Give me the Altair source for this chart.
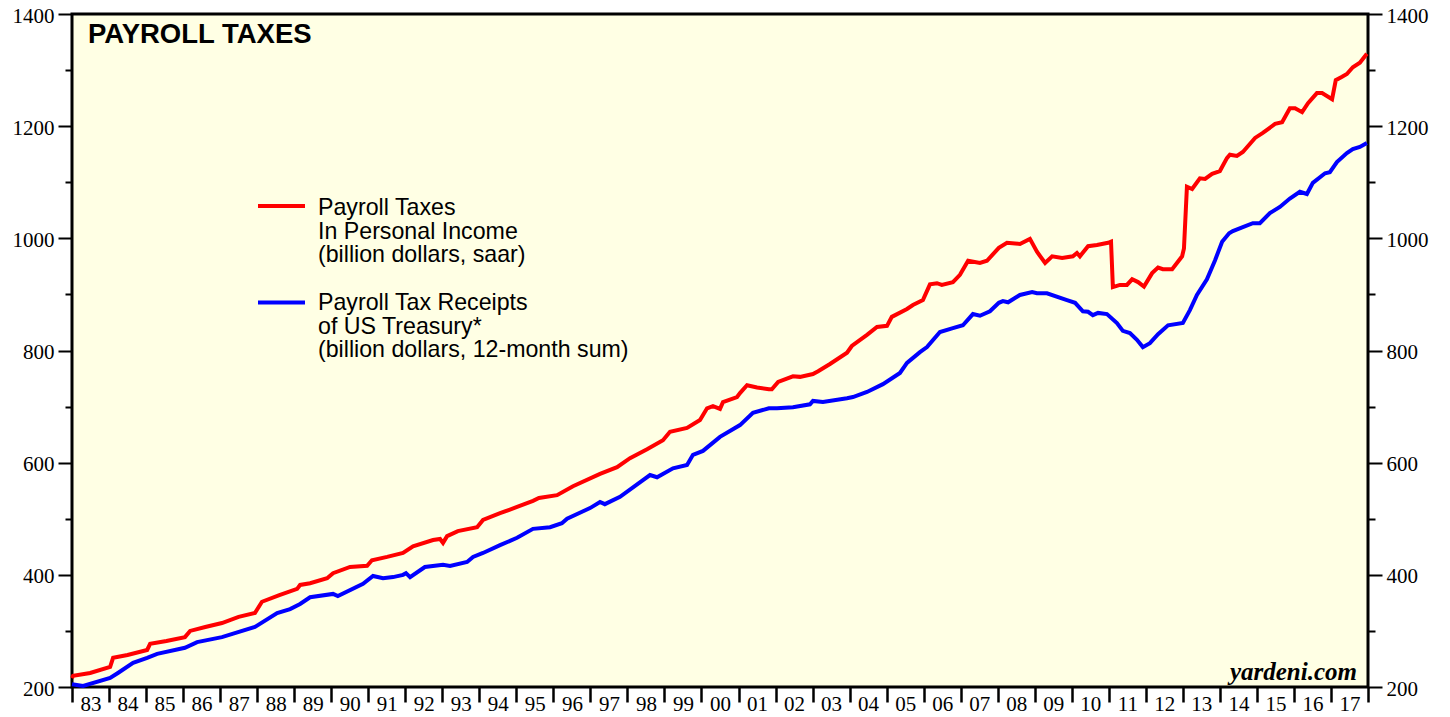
import altair as alt
import pandas as pd

# ---------------- data ----------------
RED_YEARS = [1983.00, 1983.03, 1983.49, 1984.03, 1984.11, 1984.50, 1985.03, 1985.11, 1985.55,
             1986.05, 1986.19, 1986.60, 1987.05, 1987.50, 1987.94, 1988.13, 1988.60, 1989.08,
             1989.16, 1989.43, 1989.89, 1990.05, 1990.51, 1990.97, 1991.10, 1991.51, 1991.94,
             1992.21, 1992.75, 1992.94, 1993.02, 1993.13, 1993.42, 1993.94, 1994.10, 1994.56,
             1995.02, 1995.45, 1995.61, 1996.10, 1996.53, 1997.26, 1997.72, 1998.07, 1998.53,
             1998.96, 1999.15, 1999.61, 1999.96, 2000.15, 2000.31, 2000.50, 2000.58, 2000.96,
             2001.04, 2001.23, 2001.50, 2001.82, 2001.90, 2002.07, 2002.47, 2002.66, 2003.01,
             2003.15, 2003.47, 2003.93, 2004.06, 2004.47, 2004.74, 2005.01, 2005.14, 2005.55,
             2005.71, 2005.98, 2006.17, 2006.36, 2006.49, 2006.79, 2006.98, 2007.20, 2007.52,
             2007.71, 2008.03, 2008.25, 2008.60, 2008.87, 2009.06, 2009.28, 2009.47, 2009.74,
             2010.03, 2010.14, 2010.22, 2010.44, 2010.68, 2010.98, 2011.06, 2011.11, 2011.30,
             2011.49, 2011.63, 2011.79, 2011.95, 2012.17, 2012.33, 2012.46, 2012.71, 2012.84,
             2012.98, 2013.03, 2013.11, 2013.25, 2013.46, 2013.60, 2013.79, 2014.00, 2014.19,
             2014.27, 2014.46, 2014.62, 2014.95, 2015.16, 2015.49, 2015.68, 2015.89, 2016.03,
             2016.22, 2016.38, 2016.62, 2016.76, 2017.03, 2017.13, 2017.30, 2017.43, 2017.59,
             2017.78, 2017.97]
RED_VALUES = [216, 220, 225, 236, 252, 257, 266, 277, 282,
              289, 300, 307, 314, 325, 332, 352, 364, 375,
              382, 385, 394, 403, 414, 416, 426, 432, 439,
              451, 462, 464, 457, 469, 478, 485, 498, 510,
              521, 532, 537, 542, 558, 580, 592, 608, 624,
              640, 655, 662, 676, 697, 701, 696, 708, 717,
              724, 738, 734, 731, 731, 744, 754, 753, 758,
              763, 776, 796, 808, 828, 842, 844, 860, 874,
              881, 890, 918, 920, 917, 922, 935, 960, 956,
              960, 983, 992, 990, 999, 976, 956, 968, 965,
              968, 974, 968, 986, 988, 992, 994, 913, 917,
              917, 927, 922, 914, 938, 948, 945, 945, 956,
              968, 982, 1092, 1088, 1107, 1106, 1115, 1120, 1143,
              1149, 1147, 1154, 1179, 1188, 1204, 1207, 1232, 1232,
              1225, 1241, 1259, 1259, 1248, 1282, 1288, 1293, 1305,
              1313, 1329]

BLUE_YEARS = [1983.00, 1983.30, 1984.03, 1984.24, 1984.65, 1985.03, 1985.30, 1986.05, 1986.38,
              1987.05, 1987.94, 1988.54, 1988.89, 1989.16, 1989.43, 1990.05, 1990.18, 1990.86,
              1991.13, 1991.40, 1991.67, 1991.94, 1992.02, 1992.13, 1992.53, 1993.02, 1993.21,
              1993.67, 1993.83, 1994.10, 1994.56, 1995.02, 1995.45, 1995.91, 1996.23, 1996.37,
              1996.99, 1997.26, 1997.39, 1997.80, 1998.42, 1998.61, 1998.80, 1999.23, 1999.61,
              1999.77, 2000.04, 2000.50, 2001.04, 2001.39, 2001.82, 2002.04, 2002.47, 2002.93,
              2003.01, 2003.28, 2003.93, 2004.09, 2004.47, 2004.90, 2005.36, 2005.55, 2005.90,
              2006.09, 2006.44, 2006.79, 2007.06, 2007.33, 2007.52, 2007.79, 2008.03, 2008.14,
              2008.28, 2008.60, 2008.93, 2009.06, 2009.33, 2009.87, 2010.09, 2010.30, 2010.44,
              2010.57, 2010.71, 2010.95, 2011.22, 2011.38, 2011.57, 2011.76, 2011.92, 2012.11,
              2012.33, 2012.60, 2013.00, 2013.19, 2013.38, 2013.65, 2013.87, 2014.06, 2014.25,
              2014.35, 2014.62, 2014.89, 2015.08, 2015.35, 2015.62, 2015.89, 2016.16, 2016.35,
              2016.51, 2016.84, 2016.97, 2017.16, 2017.43, 2017.59, 2017.78, 2017.97]
BLUE_VALUES = [205, 202, 216, 225, 243, 252, 259, 270, 280,
               289, 307, 332, 339, 348, 360, 366, 362, 384,
               398, 394, 396, 400, 403, 396, 414, 418, 416,
               423, 432, 439, 453, 466, 482, 485, 492, 500,
               519, 530, 526, 539, 569, 578, 574, 590, 596,
               614, 621, 646, 667, 689, 697, 697, 699, 704,
               710, 708, 715, 717, 726, 740, 760, 778, 797,
               806, 833, 840, 845, 865, 862, 870, 885, 888,
               886, 899, 904, 902, 902, 890, 885, 870, 869,
               863, 867, 865, 849, 835, 831, 819, 806, 813,
               829, 845, 849, 872, 899, 927, 961, 994, 1009,
               1013, 1020, 1027, 1027, 1045, 1056, 1071, 1083, 1079,
               1099, 1116, 1118, 1136, 1152, 1159, 1163, 1170]

X_TICKS = [1983 + i * 0.5 for i in range(71)]   # year boundaries + mid-year label slots
Y_TICKS = list(range(200, 1401, 100))

TITLE = "PAYROLL TAXES"
RED_LABEL = ["Payroll Taxes", "In Personal Income", "(billion dollars, saar)"]
BLUE_LABEL = ["Payroll Tax Receipts", "of US Treasury*", "(billion dollars, 12-month sum)"]
SOURCE = "yardeni.com"

RED = "#FF0000"
BLUE = "#0000FF"
BG = "#FFFFE4"

red_df = pd.DataFrame({"year": RED_YEARS, "value": RED_VALUES})
blue_df = pd.DataFrame({"year": BLUE_YEARS, "value": BLUE_VALUES})
one = pd.DataFrame({"k": [0]})

x_scale = alt.Scale(domain=[1983, 2018], nice=False, zero=False)
y_scale = alt.Scale(domain=[200, 1400], nice=False, zero=False)

x_axis = alt.Axis(
    values=X_TICKS, title=None, grid=False, domain=False,
    tickSize=15, tickWidth=2.5, tickColor="black",
    tickOpacity={"condition": {"test": "datum.value % 1 == 0", "value": 1}, "value": 0},
    labelExpr="datum.value % 1 != 0 ? slice('' + (floor(datum.value) % 100 + 100), 1) : ''",
    labelFont="Liberation Serif", labelFontSize=21, labelColor="black",
    labelBaseline="alphabetic", labelPadding=8, labelAngle=0,
    labelOverlap=False, labelFlush=False,
)


def y_axis(orient):
    return alt.Axis(
        orient=orient, values=Y_TICKS, title=None, grid=False, domain=False,
        tickSize={"condition": {"test": "datum.value % 200 == 0", "value": 14}, "value": 7},
        tickWidth=2, tickColor="black", format="d",
        labelExpr="datum.value % 200 == 0 ? datum.label : ''",
        labelFont="Liberation Serif", labelFontSize=21, labelColor="black",
        labelPadding=4, labelOffset=2, labelOverlap=False, labelFlush=False,
    )


blue = alt.Chart(blue_df).mark_line(color=BLUE, strokeWidth=4).encode(
    x=alt.X("year:Q", scale=x_scale, axis=x_axis),
    y=alt.Y("value:Q", scale=y_scale, axis=y_axis("right")),
)
red = alt.Chart(red_df).mark_line(color=RED, strokeWidth=4).encode(
    x=alt.X("year:Q", scale=x_scale, axis=x_axis),
    y=alt.Y("value:Q", scale=y_scale, axis=y_axis("left")),
)

title = alt.Chart(one).mark_text(
    font="Liberation Sans", fontSize=27.5, fontWeight="bold", align="left",
    baseline="alphabetic", color="black",
).encode(x=alt.value(16), y=alt.value(29), text=alt.value(TITLE))

red_key = alt.Chart(one).mark_rule(color=RED, strokeWidth=4).encode(
    x=alt.value(186), x2=alt.value(233), y=alt.value(192))
blue_key = alt.Chart(one).mark_rule(color=BLUE, strokeWidth=4).encode(
    x=alt.value(186), x2=alt.value(233), y=alt.value(288.5))

red_text = alt.Chart(one).mark_text(
    font="Liberation Sans", fontSize=23.2, align="left", baseline="alphabetic",
    lineHeight=23.5, color="black",
).encode(x=alt.value(246), y=alt.value(201), text=alt.value(RED_LABEL))
blue_text = alt.Chart(one).mark_text(
    font="Liberation Sans", fontSize=23.2, align="left", baseline="alphabetic",
    lineHeight=23.5, color="black",
).encode(x=alt.value(246), y=alt.value(296), text=alt.value(BLUE_LABEL))

source = alt.Chart(one).mark_text(
    font="Liberation Serif", fontSize=25, fontWeight="bold", fontStyle="italic",
    align="right", baseline="alphabetic", color="black",
).encode(x=alt.value(1285), y=alt.value(666), text=alt.value(SOURCE))

chart = (
    alt.layer(blue, red, title, red_key, blue_key, red_text, blue_text, source)
    .resolve_axis(y="independent")
    .properties(
        width=1296, height=673,
        padding={"left": 64, "top": 6, "right": 70, "bottom": 30},
        autosize=alt.AutoSizeParams(type="none"),
        background="white",
    )
    .configure_view(stroke="black", strokeWidth=3, fill=BG)
)

chart.save("out.html", embed_options={"renderer": "svg", "actions": False})
